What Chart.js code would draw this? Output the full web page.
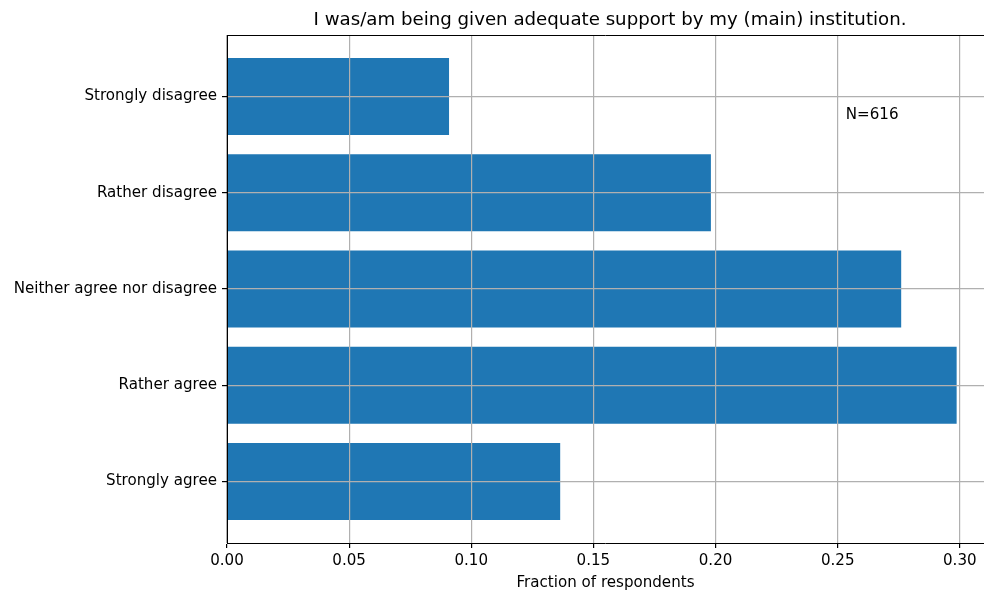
<!DOCTYPE html>
<html>
<head>
<meta charset="utf-8">
<script src="https://cdn.jsdelivr.net/npm/chart.js@4.4.0/dist/chart.umd.min.js"></script>
<style>
  html, body { margin: 0; padding: 0; background: #ffffff; }
  #wrap { width: 984px; height: 590px; position: relative; }
</style>
</head>
<body>
<div id="wrap"><canvas id="c" width="984" height="590"></canvas></div>
<script>
// ---- data ----
const categories = ["Strongly disagree", "Rather disagree", "Neither agree nor disagree", "Rather agree", "Strongly agree"];
const fractions = [0.0909, 0.1981, 0.2760, 0.2987, 0.1364];
const xTicks = [0.00, 0.05, 0.10, 0.15, 0.20, 0.25, 0.30];
const titleText = "I was/am being given adequate support by my (main) institution.";
const xLabel = "Fraction of respondents";
const noteText = "N=616";

const FONT = "'DejaVu Sans', 'Liberation Sans', sans-serif";
const points = categories.map((c, i) => ({ x: fractions[i], y: i }));

const framePlugin = {
  id: 'frame',
  afterDraw(chart) {
    const { ctx, chartArea, scales } = chart;
    ctx.save();
    // top spine
    ctx.strokeStyle = '#000000';
    ctx.lineWidth = 1;
    ctx.beginPath();
    ctx.moveTo(chartArea.left, Math.round(chartArea.top) + 0.5);
    ctx.lineTo(chartArea.right, Math.round(chartArea.top) + 0.5);
    ctx.stroke();
    // title, centred over the full (cropped) axes width
    ctx.fillStyle = '#000000';
    ctx.font = '18.2px ' + FONT;
    ctx.textAlign = 'center';
    ctx.textBaseline = 'middle';
    const cx = (chartArea.left + scales.x.getPixelForValue(0.3136)) / 2;
    ctx.fillText(titleText, cx, 20);
    // N annotation
    ctx.font = '15.1px ' + FONT;
    ctx.textAlign = 'left';
    ctx.fillText(noteText, scales.x.getPixelForValue(0.2533), scales.y.getPixelForValue(0.19));
    ctx.restore();
  }
};

new Chart(document.getElementById('c'), {
  type: 'bar',
  data: {
    datasets: [{
      data: points,
      backgroundColor: '#1f77b4',
      borderWidth: 0,
      barPercentage: 0.8,
      categoryPercentage: 1.0
    }]
  },
  options: {
    indexAxis: 'y',
    responsive: false,
    animation: false,
    events: [],
    layout: { padding: { left: 0, right: 0, top: 35, bottom: 0 } },
    plugins: {
      legend: { display: false },
      tooltip: { enabled: false },
      title: { display: false }
    },
    scales: {
      x: {
        type: 'linear',
        min: 0,
        max: 0.3099,
        afterBuildTicks: axis => { axis.ticks = xTicks.map(v => ({ value: v })); },
        afterFit: s => { s.height = 47; },
        ticks: {
          color: '#000000',
          padding: 4,
          font: { family: FONT, size: 15.1 },
          callback: v => v.toFixed(2)
        },
        grid: {
          color: '#b0b0b0',
          lineWidth: 1.2,
          z: 1,
          drawTicks: true,
          tickLength: 5,
          tickColor: '#000000'
        },
        border: { display: true, color: '#000000', width: 1, z: 2 },
        title: {
          display: true,
          text: xLabel,
          color: '#000000',
          font: { family: FONT, size: 15.1 },
          padding: { top: 0, bottom: -2 }
        }
      },
      y: {
        type: 'linear',
        reverse: true,
        offset: false,
        min: -0.64,
        max: 4.64,
        afterBuildTicks: axis => { axis.ticks = categories.map((c, i) => ({ value: i })); },
        afterFit: s => { s.width = 227; },
        ticks: {
          color: '#000000',
          padding: 5,
          font: { family: FONT, size: 15.1 },
          callback: v => categories[v] !== undefined ? categories[v] : ''
        },
        grid: {
          offset: false,
          color: '#b0b0b0',
          lineWidth: 1.2,
          z: 1,
          drawTicks: true,
          tickLength: 5,
          tickColor: '#000000'
        },
        border: { display: true, color: '#000000', width: 1, z: 2 }
      }
    }
  },
  plugins: [framePlugin]
});
</script>
</body>
</html>
